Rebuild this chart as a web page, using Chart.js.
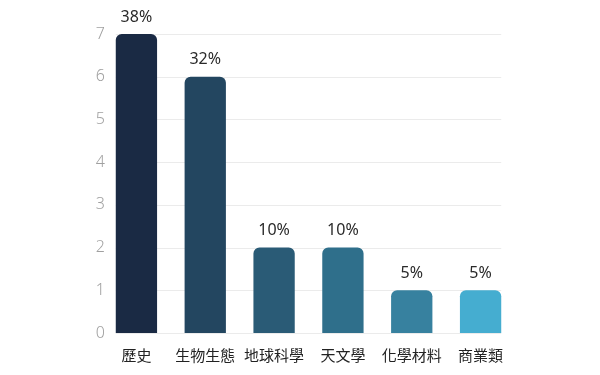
<!DOCTYPE html>
<html>
<head>
<meta charset="utf-8">
<script src="https://cdn.jsdelivr.net/npm/chart.js@4"></script>
<style>
  html, body { margin: 0; padding: 0; background: #fff; }
</style>
</head>
<body>
<canvas id="chart" width="600" height="375"></canvas>
<script>
const categories = ['歷史', '生物生態', '地球科學', '天文學', '化學材料', '商業類'];
const counts = [7, 6, 2, 2, 1, 1];
const percentLabels = ['38%', '32%', '10%', '10%', '5%', '5%'];
const barColors = ['#1a2a44', '#234660', '#2a5b76', '#2f6f8b', '#37819f', '#45add0'];
const yTicks = [0, 1, 2, 3, 4, 5, 6, 7];

const FONT = "'Noto Sans', 'Noto Sans CJK TC', sans-serif";

// grid lines only span the bars and the y labels sit close to the first bar,
// so both are drawn by hand from the scales
const gridPlugin = {
    id: 'barGrid',
    beforeDatasetsDraw(chart) {
        const meta = chart.getDatasetMeta(0);
        const first = meta.data[0], last = meta.data[meta.data.length - 1];
        const x0 = first.x - first.width / 2;
        const x1 = last.x + last.width / 2;
        const y = chart.scales.y;
        const ctx = chart.ctx;
        ctx.save();
        ctx.strokeStyle = '#ebebeb';
        ctx.lineWidth = 1;
        yTicks.forEach(v => {
            const py = Math.round(y.getPixelForValue(v)) + 0.5;
            ctx.beginPath();
            ctx.moveTo(x0, py);
            ctx.lineTo(x1, py);
            ctx.stroke();
        });
        ctx.font = '300 16px ' + FONT;
        ctx.fillStyle = '#a0a0a0';
        ctx.textAlign = 'right';
        ctx.textBaseline = 'middle';
        yTicks.forEach(v => {
            ctx.fillText(String(v), x0 - 11, y.getPixelForValue(v));
        });
        ctx.restore();
    }
};

const labelPlugin = {
    id: 'pctLabels',
    afterDatasetsDraw(chart) {
        const meta = chart.getDatasetMeta(0);
        const ctx = chart.ctx;
        ctx.save();
        ctx.font = '16px ' + FONT;
        ctx.fillStyle = '#2a2a2a';
        ctx.textAlign = 'center';
        ctx.textBaseline = 'bottom';
        meta.data.forEach((bar, i) => {
            ctx.fillText(percentLabels[i], bar.x, bar.y - 9);
        });
        ctx.restore();
    }
};

new Chart(document.getElementById('chart'), {
    type: 'bar',
    data: {
        labels: categories,
        datasets: [{
            data: counts,
            backgroundColor: barColors,
            borderRadius: { topLeft: 6, topRight: 6 },
            borderSkipped: 'bottom',
            categoryPercentage: 1,
            barPercentage: 0.6
        }]
    },
    options: {
        responsive: false,
        animation: false,
        devicePixelRatio: 1,
        layout: { padding: { left: 0, right: 85, top: 34, bottom: 0 } },
        plugins: { legend: { display: false }, tooltip: { enabled: false } },
        scales: {
            x: {
                grid: { display: false },
                border: { display: false },
                ticks: { color: '#222', font: { family: FONT, size: 15 }, padding: 7 },
                afterFit: s => { s.height = 42; }
            },
            y: {
                min: 0,
                max: 7,
                grid: { display: false, drawTicks: false },
                border: { display: false },
                afterBuildTicks: s => { s.ticks = yTicks.map(v => ({ value: v })); },
                ticks: { display: false },
                afterFit: s => { s.width = 102; }
            }
        }
    },
    plugins: [gridPlugin, labelPlugin]
});
</script>
</body>
</html>
